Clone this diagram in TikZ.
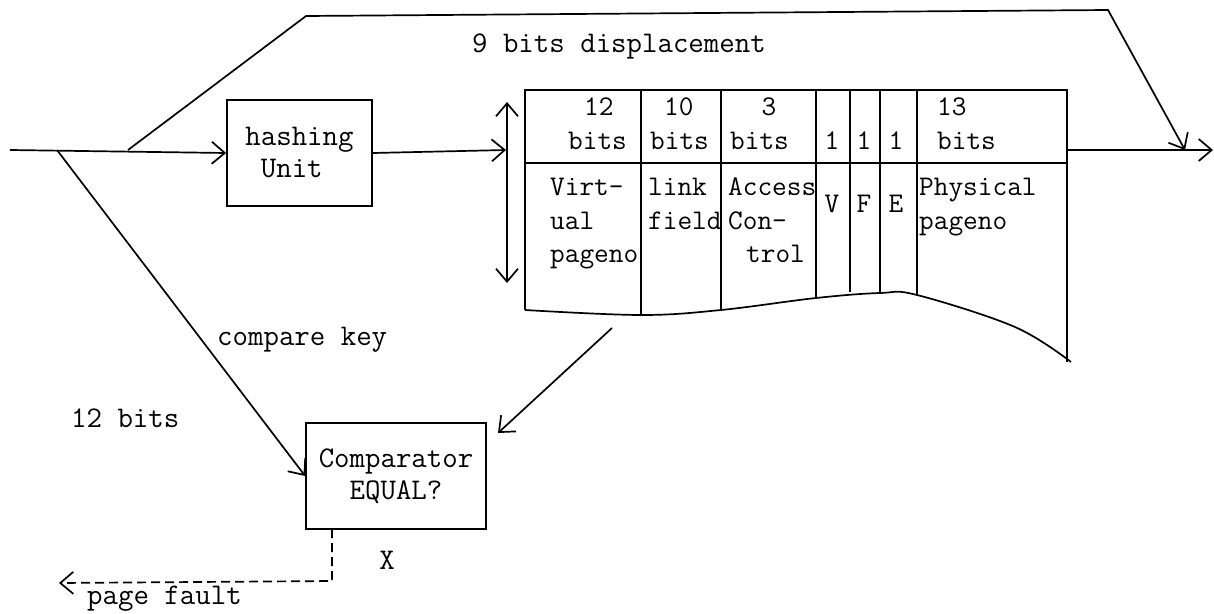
\documentclass[tikz,border=0pt]{standalone}
\usetikzlibrary{arrows.meta}
\newcommand\mylbl{\ttfamily\fontsize{30}{32}\selectfont}
\newcommand\mycell{\ttfamily\fontsize{28.5}{33.5}\selectfont}
\begin{document}
\begin{tikzpicture}[x=1pt,y=-1pt,
  line/.style={line width=1.7pt},
  barb/.tip={Straight Barb[length=13pt,width=22pt,line width=1.7pt]},
  arr/.style={line, -barb},
  box/.style={draw, line width=1.7pt, inner sep=0pt, font=\mylbl},
  lbl/.style={inner sep=0pt, anchor=mid west, font=\mylbl},
  cell/.style={inner sep=0pt, anchor=mid west, font=\mycell},
  cellc/.style={inner sep=0pt, anchor=mid, font=\mycell},
]
\useasboundingbox[fill=white] (0,0) rectangle (1214,613);

% boxes
\node[box, minimum width=145pt, minimum height=106pt, align=left] (hash) at (299.5,153) {hashing\\\phantom{h}Unit};
\node[box, minimum width=180pt, minimum height=106pt, align=center] (cmp) at (396,476) {Comparator\\EQUAL?};

% table
\draw[line] (525,310) -- (525,90) -- (1067,90) -- (1067,362);
\draw[line] (525,163) -- (1067,163);
\draw[line] plot[smooth, tension=0.6] coordinates {(525,310) (641,315) (721,310) (816,298) (880,293) (917,295) (1015,327) (1071,362)};
\draw[line] (641,90) -- (641,315);
\draw[line] (721,90) -- (721,310);
\draw[line] (816,90) -- (816,298);
\draw[line] (850,90) -- (850,292);
\draw[line] (880,90) -- (880,293);
\draw[line] (917,90) -- (917,295);

% header texts
\node[cell] (h1a) at (584,113) {12};
\node[cell] (h1b) at (568,147) {bits};
\node[cell] (h2a) at (664,113) {10};
\node[cell] (h2b) at (650,147) {bits};
\node[cellc] (h3a) at (769,113) {3};
\node[cell] (h3b) at (730,147) {bits};
\node[cellc] (h4) at (832,147) {1};
\node[cellc] (h5) at (864,147) {1};
\node[cellc] (h6) at (896,147) {1};
\node[cell] (h7a) at (937,113) {13};
\node[cell] (h7b) at (937,147) {bits};

% body texts
\node[cell] (b1a) at (550,193) {Virt-};
\node[cell] (b1b) at (550,227) {ual};
\node[cell] (b1c) at (550,260) {pageno};
\node[cell] (b2a) at (648,193) {link};
\node[cell] (b2b) at (648,227) {field};
\node[cell] (b3a) at (728,193) {Access};
\node[cell] (b3b) at (728,227) {Con-};
\node[cell] (b3c) at (746,260) {trol};
\node[cellc] (bV) at (832,210) {V};
\node[cellc] (bF) at (864,210) {F};
\node[cellc] (bE) at (896,210) {E};
\node[cell] (b7a) at (919,193) {Physical};
\node[cell] (b7b) at (919,227) {pageno};

% labels
\node[lbl] (disp) at (472,50) {9 bits displacement};
\node[lbl] (key) at (217,343) {compare key};
\node[lbl] (bits12) at (71,425) {12 bits};
\node[inner sep=0pt, anchor=mid, font=\mylbl] (xlab) at (387,567) {X};
\node[lbl] (fault) at (87,602) {page fault};

% coordinates
\coordinate (in) at (10,150);
\coordinate (spl) at (57,150);
\coordinate (spu) at (128,150);
\coordinate (topL) at (306,16);
\coordinate (topR) at (1108,10);
\coordinate (outtip) at (1185,150);
\coordinate (dbl) at (506,150);
\coordinate (dblT) at (507,102);
\coordinate (dblB) at (507,283);
\coordinate (tblR) at (1067,150);
\coordinate (out) at (1213,150);
\coordinate (tblB) at (612,328);
\coordinate (cmpIn) at (498,433);
\coordinate (dA) at (332,529);
\coordinate (dB) at (332,581);
\coordinate (dC) at (59,583);

% connectors
\draw[arr] (in) -- (hash.west);
\draw[arr] (spl) -- (cmp.west);
\draw[arr] (spu) -- (topL) -- (topR) -- (outtip);
\draw[arr] (hash.east) -- (dbl);
\draw[line, barb-barb] (dblT) -- (dblB);
\draw[arr] (tblR) -- (out);
\draw[arr] (tblB) -- (cmpIn);
\draw[arr, dash pattern=on 9pt off 5pt] (dA) -- (dB) -- (dC);
\end{tikzpicture}
\end{document}
